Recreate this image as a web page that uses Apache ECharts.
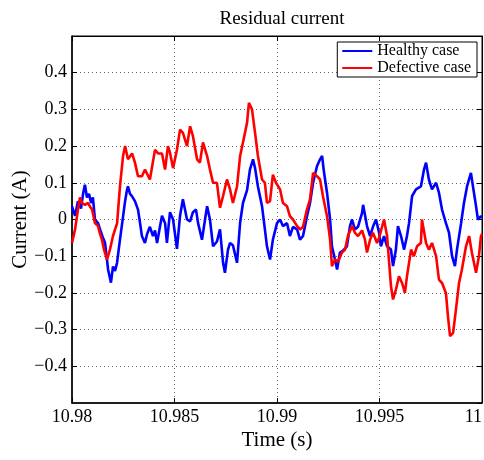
<!DOCTYPE html>
<html>
<head>
<meta charset="utf-8">
<script src="https://cdn.jsdelivr.net/npm/echarts@6/dist/echarts.min.js"></script>
<style>
  html, body { margin: 0; padding: 0; background: #fff; }
  #chart { width: 484px; height: 460px; }
</style>
</head>
<body>
<div id="chart"></div>
<script>
// time is stored as ms after 10.98 s
const T0 = 10.98;

const healthyMs = [0, 0.15, 0.29, 0.44, 0.54, 0.63, 0.73, 0.83, 0.93, 1.02, 1.12, 1.27, 1.37, 1.51, 1.61, 1.76, 1.90, 2.00, 2.10, 2.20,
  2.34, 2.49, 2.59, 2.68, 2.73, 2.83, 2.93, 3.07, 3.22, 3.32, 3.41, 3.56, 3.66, 3.80, 3.95, 4.05, 4.15, 4.29, 4.39, 4.54,
  4.63, 4.78, 4.93, 5.12, 5.27, 5.41, 5.61, 5.76, 5.90, 6.05, 6.15, 6.34, 6.49, 6.59, 6.73, 6.88, 7.07, 7.22, 7.37, 7.46,
  7.61, 7.71, 7.85, 8.05, 8.20, 8.34, 8.54, 8.68, 8.83, 8.93, 9.07, 9.27, 9.41, 9.51, 9.66, 9.80, 10.00, 10.15, 10.29, 10.49,
  10.63, 10.78, 10.98, 11.12, 11.27, 11.46, 11.61, 11.76, 11.95, 12.10, 12.20, 12.29, 12.44, 12.59, 12.68, 12.83, 12.93, 13.07, 13.22, 13.41,
  13.56, 13.66, 13.80, 13.95, 14.15, 14.20, 14.39, 14.54, 14.68, 14.83, 14.98, 15.07, 15.22, 15.37, 15.56, 15.66, 15.80, 15.90, 16.05, 16.20,
  16.34, 16.44, 16.59, 16.78, 17.02, 17.17, 17.27, 17.41, 17.56, 17.76, 17.90, 18.05, 18.24, 18.39, 18.54, 18.68, 18.78, 18.98, 19.12, 19.27,
  19.46, 19.56, 19.71, 19.80, 19.95, 20.00];
const healthyA = [0.036, 0.01, 0.05, 0.03, 0.07, 0.095, 0.06, 0.07, 0.045, 0.06, 0.0, -0.01, -0.027, -0.05, -0.063, -0.136, -0.172, -0.128, -0.14, -0.117,
  -0.055, 0.008, 0.05, 0.08, 0.09, 0.07, 0.063, 0.05, 0.027, -0.01, -0.045, -0.064, -0.04, -0.02, -0.045, -0.03, -0.064, -0.02, 0.01, -0.01,
  -0.064, 0.02, 0.0, -0.08, 0.01, 0.055, 0.0, -0.005, 0.02, 0.027, -0.01, -0.055, 0.0, 0.036, 0.0, -0.073, -0.06, -0.027, -0.118, -0.145,
  -0.082, -0.064, -0.07, -0.118, -0.009, 0.045, 0.08, 0.136, 0.164, 0.14, 0.09, 0.036, -0.027, -0.073, -0.109, -0.055, -0.01, 0.0, -0.018, -0.01,
  -0.045, -0.02, -0.027, -0.055, -0.045, 0.008, 0.045, 0.1, 0.145, 0.164, 0.173, 0.13, 0.073, 0.0, -0.073, -0.109, -0.136, -0.09, -0.085, -0.073,
  -0.018, 0.0, -0.027, -0.02, 0.018, 0.04, -0.018, -0.045, -0.02, 0.0, -0.036, -0.073, -0.045, -0.073, -0.082, -0.127, -0.082, -0.018, -0.045, -0.082,
  -0.045, -0.01, 0.064, 0.082, 0.09, 0.136, 0.155, 0.109, 0.082, 0.1, 0.073, 0.027, -0.01, -0.036, -0.1, -0.127, -0.082, -0.01, 0.045, 0.09,
  0.127, 0.09, 0.036, 0.0, 0.009, 0.005];

const defectiveMs = [0, 0.15, 0.29, 0.39, 0.49, 0.63, 0.78, 0.88, 0.98, 1.12, 1.27, 1.37, 1.46, 1.56, 1.71, 1.85, 2.00, 2.20, 2.34, 2.49,
  2.59, 2.73, 2.93, 3.07, 3.22, 3.41, 3.56, 3.80, 4.05, 4.20, 4.39, 4.54, 4.68, 4.78, 4.93, 5.12, 5.27, 5.41, 5.61, 5.76,
  5.90, 6.10, 6.24, 6.39, 6.59, 6.73, 6.88, 7.07, 7.22, 7.37, 7.56, 7.71, 7.85, 8.05, 8.20, 8.34, 8.54, 8.63, 8.78, 8.93,
  9.07, 9.27, 9.41, 9.51, 9.66, 9.80, 9.95, 10.15, 10.29, 10.49, 10.63, 10.78, 10.98, 11.12, 11.27, 11.46, 11.61, 11.76, 11.95, 12.10,
  12.24, 12.44, 12.59, 12.68, 12.83, 12.98, 13.17, 13.32, 13.46, 13.66, 13.80, 13.95, 14.15, 14.29, 14.39, 14.54, 14.68, 14.88, 14.98, 15.07,
  15.22, 15.37, 15.56, 15.66, 15.80, 15.95, 16.10, 16.24, 16.34, 16.54, 16.68, 16.83, 17.02, 17.07, 17.27, 17.41, 17.56, 17.76, 17.90, 18.05,
  18.24, 18.34, 18.44, 18.59, 18.73, 18.88, 19.02, 19.22, 19.37, 19.51, 19.71, 19.85, 19.95, 20.00];
const defectiveA = [-0.064, -0.027, 0.027, 0.06, 0.045, 0.04, 0.045, 0.035, 0.027, -0.01, -0.018, -0.04, -0.055, -0.082, -0.109, -0.082, -0.045, -0.01, 0.09, 0.173,
  0.2, 0.164, 0.18, 0.155, 0.118, 0.118, 0.136, 0.109, 0.19, 0.18, 0.18, 0.136, 0.2, 0.182, 0.14, 0.19, 0.245, 0.236, 0.2, 0.254,
  0.227, 0.164, 0.155, 0.21, 0.173, 0.136, 0.1, 0.1, 0.032, 0.064, 0.109, 0.082, 0.045, 0.09, 0.173, 0.21, 0.264, 0.318, 0.3, 0.236,
  0.173, 0.109, 0.1, 0.045, 0.05, 0.122, 0.1, 0.082, 0.045, 0.036, 0.009, 0.0, -0.018, -0.027, -0.02, 0.027, 0.055, 0.127, 0.118, 0.109,
  0.064, 0.009, -0.055, -0.127, -0.109, -0.115, -0.09, -0.082, -0.045, -0.018, -0.036, -0.045, -0.03, -0.055, -0.09, -0.055, -0.036, -0.064, -0.05, -0.045,
  0.0, -0.045, -0.182, -0.218, -0.191, -0.155, -0.173, -0.2, -0.155, -0.082, -0.1, -0.073, -0.064, 0.0, -0.064, -0.082, -0.064, -0.1, -0.164, -0.173,
  -0.2, -0.264, -0.318, -0.309, -0.245, -0.173, -0.136, -0.073, -0.045, -0.091, -0.145, -0.1, -0.045, -0.04];

const seriesNames = ["Healthy case", "Defective case"];
const xTicks = [10.98, 10.985, 10.99, 10.995, 11];
const yTicks = [-0.5, -0.4, -0.3, -0.2, -0.1, 0, 0.1, 0.2, 0.3, 0.4, 0.5];

const FONT = "Liberation Serif";

function pairs(ms, vals) {
  return ms.map((m, i) => [T0 + m / 1000, vals[i]]);
}

const chart = echarts.init(document.getElementById("chart"));

const gridDots = { show: true, lineStyle: { color: "#666", type: [1, 3], width: 1 } };

chart.setOption({
  animation: false,
  title: {
    text: "Residual current",
    left: 277,
    top: 5,
    textAlign: "center",
    textStyle: { fontFamily: FONT, fontSize: 19, fontWeight: "normal", color: "#000" },
  },
  legend: {
    data: seriesNames,
    orient: "vertical",
    right: 7,
    top: 42,
    icon: "rect",
    itemWidth: 30,
    itemHeight: 2,
    itemGap: 1,
    padding: [1, 6, 1, 5],
    borderColor: "#000",
    borderWidth: 1,
    backgroundColor: "#fff",
    textStyle: { fontFamily: FONT, fontSize: 16, color: "#000", lineHeight: 15 },
  },
  grid: {
    left: 72,
    right: 2,
    top: 36,
    bottom: 57,
    outerBoundsMode: "none",
    show: true,
    borderColor: "#000",
    borderWidth: 1,
  },
  xAxis: [
    {
      type: "value",
      min: xTicks[0],
      max: xTicks[xTicks.length - 1],
      interval: 0.005,
      position: "bottom",
      name: "Time (s)",
      nameLocation: "middle",
      nameGap: 27,
      nameMoveOverlap: false,
      nameTextStyle: { fontFamily: FONT, fontSize: 21, color: "#000" },
      axisLine: { onZero: false, lineStyle: { color: "#000", width: 1.5 } },
      axisTick: { inside: true, length: 5, lineStyle: { color: "#000" } },
      axisLabel: {
        fontFamily: FONT, fontSize: 18, color: "#000", margin: 5,
        alignMaxLabel: "right",
        formatter: (v) => String(parseFloat(v.toFixed(3))),
      },
      splitLine: gridDots,
    },
    {
      type: "value",
      min: xTicks[0],
      max: xTicks[xTicks.length - 1],
      interval: 0.005,
      position: "top",
      axisLine: { onZero: false, lineStyle: { color: "#000", width: 1 } },
      axisTick: { inside: true, length: 5, lineStyle: { color: "#000" } },
      axisLabel: { show: false },
      splitLine: { show: false },
    },
  ],
  yAxis: [
    {
      type: "value",
      min: yTicks[0],
      max: yTicks[yTicks.length - 1],
      interval: 0.1,
      position: "left",
      name: "Current (A)",
      nameLocation: "middle",
      nameGap: 41,
      nameMoveOverlap: false,
      nameTextStyle: { fontFamily: FONT, fontSize: 21, color: "#000" },
      axisLine: { onZero: false, lineStyle: { color: "#000", width: 1.5 } },
      axisTick: { inside: true, length: 5, lineStyle: { color: "#000" } },
      axisLabel: {
        fontFamily: FONT, fontSize: 18, color: "#000", margin: 5,
        showMinLabel: false, showMaxLabel: false,
        formatter: (v) => {
          const r = Math.round(v * 10) / 10;
          if (r === 0) return "0";
          return (r < 0 ? "\u2212" : "") + Math.abs(r).toFixed(1);
        },
      },
      splitLine: gridDots,
    },
    {
      type: "value",
      min: yTicks[0],
      max: yTicks[yTicks.length - 1],
      interval: 0.1,
      position: "right",
      axisLine: { onZero: false, lineStyle: { color: "#000", width: 1 } },
      axisTick: { inside: true, length: 5, lineStyle: { color: "#000" } },
      axisLabel: { show: false },
      splitLine: { show: false },
    },
  ],
  series: [
    {
      name: seriesNames[0],
      type: "line",
      data: pairs(healthyMs, healthyA),
      showSymbol: false,
      symbol: "none",
      color: "#0000ff",
      lineStyle: { color: "#0000ff", width: 2.6 },
    },
    {
      name: seriesNames[1],
      type: "line",
      data: pairs(defectiveMs, defectiveA),
      showSymbol: false,
      symbol: "none",
      color: "#ff0000",
      lineStyle: { color: "#ff0000", width: 2.6 },
    },
  ],
});
</script>
</body>
</html>
